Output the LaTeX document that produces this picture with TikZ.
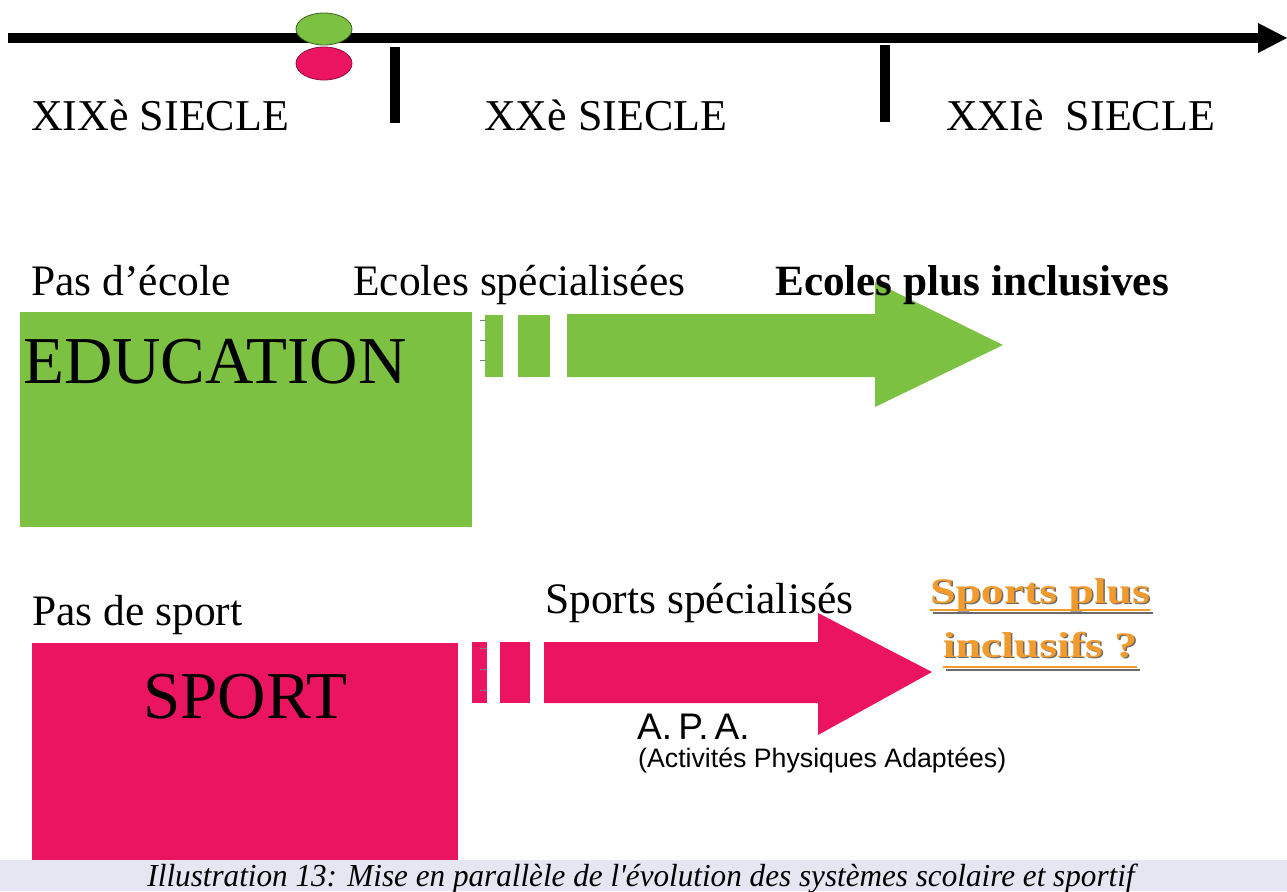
\documentclass[tikz,border=0pt]{standalone}
\usepackage{fontspec}
\usepackage{graphicx}
\setmainfont{Liberation Serif}
\newfontfamily\arialfont{Liberation Sans}
\definecolor{edugreen}{HTML}{7DC142}
\definecolor{sportpink}{HTML}{EB1461}
\definecolor{orangetxt}{HTML}{F39A2C}
\definecolor{shadowgray}{HTML}{6A6A6A}
\definecolor{capband}{HTML}{E6E6F2}
\tikzset{
  lbl/.style={anchor=base west, inner sep=0pt, font=\fontsize{43.5}{50}\selectfont},
  century/.style={anchor=base west, inner sep=0pt, font=\fontsize{44}{50}\selectfont},
  big/.style={anchor=base west, inner sep=0pt, font=\fontsize{67}{72}\selectfont},
  otxt/.style={anchor=base, inner sep=0pt, font=\bfseries\fontsize{36}{40}\selectfont},
  tickmark/.style={gray, line width=0.8pt},
  uline/.style={line width=2.5pt},
}
\begin{document}
\begin{tikzpicture}[x=1pt,y=-1pt]
\useasboundingbox (0,0) rectangle (1287,891);
% timeline
\fill (8,33) rectangle (1258,43);
\fill (1258,23) -- (1287,38) -- (1258,53) -- cycle;
\fill (390,47) rectangle (400,123);
\fill (880,45) rectangle (890,122);
\draw[fill=sportpink, draw=sportpink!60!black, line width=0.8pt] (324,63.5) ellipse [x radius=28pt, y radius=16.5pt];
\draw[fill=edugreen, draw=edugreen!50!black, line width=0.8pt] (324,29) ellipse [x radius=28pt, y radius=16pt];
\node[century] (s19) at (31,130) {XIXè SIECLE};
\node[century] (s20) at (484,130) {XXè SIECLE};
\node[century] (s21) at (946,130) {XXIè\ \ SIECLE};
% education
\fill[edugreen] (20,312) rectangle (472,527);
\fill[edugreen] (485,315) rectangle (503,377);
\fill[edugreen] (518,315) rectangle (550,377);
\foreach \yy in {320,340,360} \draw[tickmark] (480,\yy) -- (486,\yy);
\fill[edugreen] (567,314) -- (875,314) -- (875,282) -- (1003,345) -- (875,407) -- (875,377) -- (567,377) -- cycle;
\node[lbl] (pasecole) at (31,295) {Pas d’école};
\node[lbl] (ecspec) at (353,295) {Ecoles spécialisées};
\node[lbl, font=\bfseries\fontsize{43.2}{50}\selectfont] (ecincl) at (775,295) {Ecoles plus inclusives};
\node[big] (edu) at (23,383) {EDUCATION};
% sport
\fill[sportpink] (32,643) rectangle (458,860);
\fill[sportpink] (472,642) rectangle (487,703);
\fill[sportpink] (500,642) rectangle (530,703);
\foreach \yy in {648,669,690} \draw[tickmark] (480,\yy) -- (487,\yy);
\fill[sportpink] (544,642) -- (818,642) -- (818,613) -- (932,672) -- (818,735) -- (818,703) -- (544,703) -- cycle;
\node[lbl] (passport) at (32,625) {Pas de sport};
\node[lbl] (sportspec) at (545,613) {Sports spécialisés};
\node[big] (sport) at (143,718) {SPORT};
\node[anchor=base west, inner sep=0pt, font=\arialfont\fontsize{37}{44}\selectfont] (apa) at (637,739) {A.\,P.\,A.};
\node[anchor=base west, inner sep=0pt, font=\arialfont\fontsize{26.7}{30}\selectfont] (apalong) at (638,767) {(Activités Physiques Adaptées)};
% orange question
\node[otxt, text=shadowgray] (sp1s) at (1041.5,604.5) {\scalebox{1.27}[1]{Sports plus}};
\node[otxt, text=shadowgray] (sp2s) at (1041.5,658.5) {\scalebox{1.27}[1]{inclusifs ?}};
\draw[uline, shadowgray] ([shift={(1.5,8.5)}]sp1s.base west) -- ([shift={(1.5,8.5)}]sp1s.base east);
\draw[uline, shadowgray] ([shift={(1.5,11.5)}]sp2s.base west) -- ([shift={(1.5,11.5)}]sp2s.base east);
\node[otxt, text=orangetxt] (sp1) at (1040,603) {\scalebox{1.27}[1]{Sports plus}};
\node[otxt, text=orangetxt] (sp2) at (1040,657) {\scalebox{1.27}[1]{inclusifs ?}};
\draw[uline, orangetxt] ([yshift=-7pt]sp1.base west) -- ([yshift=-7pt]sp1.base east);
\draw[uline, orangetxt] ([yshift=-10pt]sp2.base west) -- ([yshift=-10pt]sp2.base east);
% caption
\fill[capband] (0,860) rectangle (1287,891);
\node[anchor=base, inner sep=0pt, font=\itshape\fontsize{32}{34}\selectfont] (cap) at (641,886) {\resizebox{987pt}{\height}{Illustration 13: Mise en parallèle de l\textquotesingle évolution des systèmes scolaire et sportif}};
\end{tikzpicture}
\end{document}
